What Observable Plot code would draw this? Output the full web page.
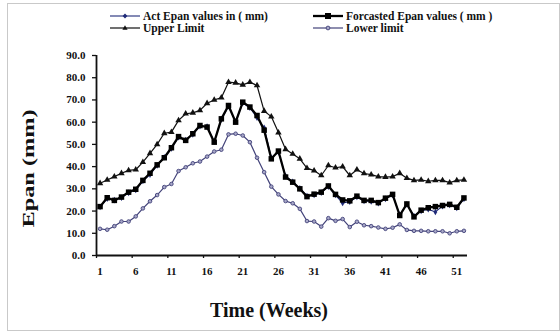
<!DOCTYPE html>
<html><head><meta charset="utf-8">
<script src="https://cdn.jsdelivr.net/npm/d3@7"></script>
<script src="https://cdn.jsdelivr.net/npm/@observablehq/plot@0.6"></script>
<style>
body{margin:0;background:#fff;}
#wrap{position:relative;width:560px;height:331px;font-family:"Liberation Serif","Times New Roman",serif;font-weight:bold;color:#111;overflow:hidden;}
#border{position:absolute;left:7px;top:3px;width:551px;height:326px;border:1px solid #c9c9c9;}
#legend{position:absolute;left:0;top:0;width:560px;height:40px;}
.item{position:absolute;display:flex;align-items:center;font-size:11.5px;white-space:nowrap;height:12px;}
.item svg{margin-right:3px;}
#chart{position:absolute;left:0;top:40px;}
</style></head><body>
<div id="wrap"><div id="border"></div><div id="legend"></div><div id="chart"></div></div>
<script>
const weeks = [1,2,3,4,5,6,7,8,9,10,11,12,13,14,15,16,17,18,19,20,21,22,23,24,25,26,27,28,29,30,31,32,33,34,35,36,37,38,39,40,41,42,43,44,45,46,47,48,49,50,51,52];
const actual = [21.8,25.6,24.9,26,28.2,29.5,33.5,36.4,40.5,44.2,
  48.2,53.2,52,54.5,58.2,58,51.3,61.2,67.2,60.3,
  68.6,66.5,62,57.5,44,46.5,35.8,33.2,30.2,26.8,
  27.2,28.3,31,27.2,23.6,24.2,26.3,24.5,24.3,23.5,
  25.5,27.2,18.4,23,17.8,20,20.8,19.6,22.2,22.7,
  21.4,25.5];
const forecast = [22,26,24.8,26.3,28.5,29.8,33.8,37,40.8,44,
  48.5,53.5,51.8,54.8,58.5,57.8,51,61.5,67.5,60,
  69,66.8,63,56.4,43.5,47,35.3,33,30,26.5,
  27.6,28.5,31.3,27.5,25,24.6,26.7,24.8,24.8,23.8,
  25.8,27.5,18,23.2,17.4,20.4,21.5,22,22.5,23,
  21.7,25.9];
const upper = [32.5,34,35.5,37,38.3,38.6,42,46,50,55,
  55.5,60.8,63.8,64.2,65.3,68.5,70,71,78,77.7,
  76.8,78,76.5,65,62.5,55.3,47.8,45.7,43.5,39.3,
  38.2,36,40.5,39.5,40,36,38.6,36.9,36.4,35.5,
  35.3,35.5,37,34.8,33.8,34,33.4,33.8,33.8,32.8,
  33.8,34];
const lower = [12,11.6,13.2,15.3,15.3,17.6,21.2,24.4,27.2,30.8,
  32.2,38,39.7,41.5,42.3,44.5,46.8,47.6,54.5,54.8,
  54,51,44,37.5,31,27.5,24.5,23.5,21,15.5,
  15.3,13,16.8,15.6,16.4,12.8,15.2,13.6,13.2,12.6,
  12,12.5,14,11.5,11.1,11.1,10.9,10.9,10.9,10,
  10.9,11.1];
const seriesNames = ["Act Epan values in ( mm)", "Forcasted Epan values ( mm )", "Upper Limit", "Lower limit"];
const xTickLabels = [1,6,11,16,21,26,31,36,41,46,51];
const xTickMarks = [0.5,5.5,10.5,15.5,20.5,25.5,30.5,35.5,40.5,45.5,50.5];
const yTicks = [0,10,20,30,40,50,60,70,80,90];
const xTitle = "Time (Weeks)";
const yTitle = "Epan (mm)";

const toRows = vals => weeks.map((w, i) => ({week: w, value: vals[i]}));
const rowsA = toRows(actual), rowsF = toRows(forecast), rowsU = toRows(upper), rowsL = toRows(lower);

const navy = "#1f2a78", purple = "#43437a";

const chart = Plot.plot({
  width: 560, height: 291,
  marginTop: 15, marginBottom: 76, marginLeft: 96, marginRight: 93,
  style: {fontFamily: '"Liberation Serif","Times New Roman",serif', fontWeight: "bold", fontSize: "11px", color: "#111", background: "transparent", overflow: "visible"},
  x: {type: "linear", domain: [0.5, 52.5]},
  y: {domain: [0, 90]},
  marks: [
    Plot.axisY({ticks: yTicks, tickFormat: d3.format(".1f"), tickSize: 4, tickPadding: 7, label: null, strokeWidth: 1.3}),
    Plot.axisX({ticks: xTickLabels, tickSize: 0, tickPadding: 12, label: null}),
    Plot.axisX({ticks: xTickMarks, tickSize: 3, tickFormat: () => "", label: null, strokeWidth: 1.3}),
    Plot.ruleX([0.5], {stroke: "#111", strokeWidth: 1.8}),
    Plot.ruleY([0], {stroke: "#111", strokeWidth: 1.8}),
    // Upper limit
    Plot.line(rowsU, {x: "week", y: "value", stroke: "#111", strokeWidth: 1.2}),
    Plot.dot(rowsU, {x: "week", y: "value", symbol: "triangle", r: 2.4, fill: "#111", stroke: "none"}),
    // Lower limit
    Plot.line(rowsL, {x: "week", y: "value", stroke: purple, strokeWidth: 1.2}),
    Plot.dot(rowsL, {x: "week", y: "value", symbol: "circle", r: 1.8, fill: "#a8a8c8", stroke: purple, strokeWidth: 0.9}),
    // Actual
    Plot.line(rowsA, {x: "week", y: "value", stroke: navy, strokeWidth: 1.1}),
    Plot.dot(rowsA, {x: "week", y: "value", symbol: "diamond", r: 2, fill: navy, stroke: "none"}),
    // Forecast
    Plot.line(rowsF, {x: "week", y: "value", stroke: "#000", strokeWidth: 2.3}),
    Plot.dot(rowsF, {x: "week", y: "value", symbol: "square", r: 3.1, fill: "#000", stroke: "none"}),
    // Titles
    Plot.text([yTitle], {text: d => d, frameAnchor: "left", rotate: -90, dx: -68, dy: 13, fontSize: 16, fontWeight: "bold"}),
    Plot.text([xTitle], {text: d => d, frameAnchor: "bottom", dx: -13, dy: 61, fontSize: 20, fontWeight: "bold"})
  ]
});
document.getElementById("chart").appendChild(chart);
d3.select(chart).selectAll("text").filter(function(){ return this.textContent === yTitle; })
  .attr("text-anchor", "start").attr("x", -59)
  .attr("textLength", 118).attr("lengthAdjust", "spacingAndGlyphs");

// Legend
const legend = document.getElementById("legend");
const swatch = {
  0: `<line x1="0" y1="5" x2="30" y2="5" stroke="${navy}" stroke-width="1.1"/><path d="M15,2.6L17.4,5L15,7.4L12.6,5Z" fill="${navy}"/>`,
  1: `<line x1="0" y1="5" x2="30" y2="5" stroke="#000" stroke-width="2.3"/><rect x="12" y="2" width="6" height="6" fill="#000"/>`,
  2: `<line x1="0" y1="5" x2="30" y2="5" stroke="#111" stroke-width="1.2"/><path d="M15,2.2L17.6,6.8L12.4,6.8Z" fill="#111"/>`,
  3: `<line x1="0" y1="5" x2="30" y2="5" stroke="${purple}" stroke-width="1.2"/><circle cx="15" cy="5" r="1.9" fill="#a8a8c8" stroke="${purple}" stroke-width="0.9"/>`
};
const pos = [[110, 10], [313, 10], [110, 22], [313, 22]];
seriesNames.forEach((name, i) => {
  const d = document.createElement("div");
  d.className = "item";
  d.style.left = pos[i][0] + "px";
  d.style.top = pos[i][1] + "px";
  d.innerHTML = `<svg width="30" height="10">${swatch[i]}</svg><span>${name}</span>`;
  legend.appendChild(d);
});
</script>
</body></html>
